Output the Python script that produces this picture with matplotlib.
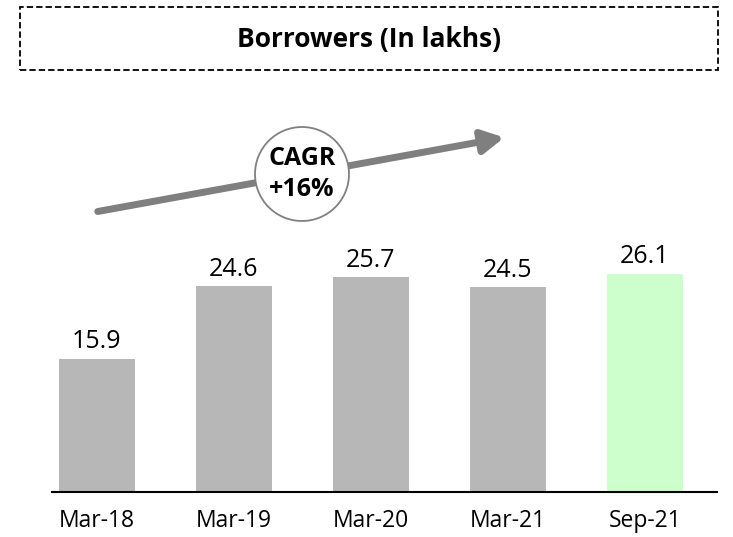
import matplotlib.pyplot as plt
from matplotlib.patches import Ellipse, FancyArrowPatch, Rectangle

periods = ["Mar-18", "Mar-19", "Mar-20", "Mar-21", "Sep-21"]
borrowers = [15.9, 24.6, 25.7, 24.5, 26.1]
bar_colors = ["#B7B7B7", "#B7B7B7", "#B7B7B7", "#B7B7B7", "#CCFFCC"]
cagr_text = "CAGR\n+16%"

plt.rcParams["font.family"] = ["Open Sans", "DejaVu Sans"]

W, H = 733, 537
fig = plt.figure(figsize=(W / 100, H / 100), dpi=100)

# bar area: baseline at y=492px, 8.36 px per lakh
bottom_px = 492
top_px = bottom_px - 30 * 8.36
ax = fig.add_axes([52 / W, (H - bottom_px) / H, (717 - 52) / W, (bottom_px - top_px) / H])
x = list(range(len(periods)))
ax.bar(x, borrowers, width=0.555, color=bar_colors)
for xi, v in zip(x, borrowers):
    ax.text(xi, v + 0.55, f"{v:.1f}", ha="center", va="bottom", fontsize=18)
ax.set_xlim(-0.325, 4.525)
ax.set_ylim(0, 30)
ax.set_xticks(x)
ax.set_xticklabels(periods, fontsize=16.5)
ax.tick_params(axis="x", length=0, pad=12)
ax.set_yticks([])
for s in ["top", "right", "left"]:
    ax.spines[s].set_visible(False)
ax.spines["bottom"].set_linewidth(1.5)
ax.patch.set_alpha(0)

# dashed title box
fig.patches.append(Rectangle((20 / W, 1 - 70 / H), (718 - 20) / W, 63 / H,
                             transform=fig.transFigure, fill=False,
                             edgecolor="black", linestyle=(0, (3.5, 1.7)), linewidth=1.3))
fig.text(369 / W, 1 - 40 / H, "Borrowers (In lakhs)", ha="center", va="center",
         fontsize=19, fontweight="bold")

# growth arrow
fig.add_artist(FancyArrowPatch(
    (95 / W, 1 - 212 / H), (507 / W, 1 - 137 / H), transform=fig.transFigure,
    arrowstyle="-|>,head_length=13,head_width=7", mutation_scale=1,
    color="#7F7F7F", linewidth=5))

# CAGR circle
cx, cy, r = 302, 174, 47
fig.add_artist(Ellipse((cx / W, 1 - cy / H), 2 * r / W, 2 * r / H,
                       transform=fig.transFigure, facecolor="white",
                       edgecolor="#808080", linewidth=1.3))
fig.text(cx / W, 1 - cy / H, cagr_text, ha="center", va="center", fontsize=18,
         fontweight="bold", linespacing=1.35)

fig.savefig("out.png", dpi=100)
